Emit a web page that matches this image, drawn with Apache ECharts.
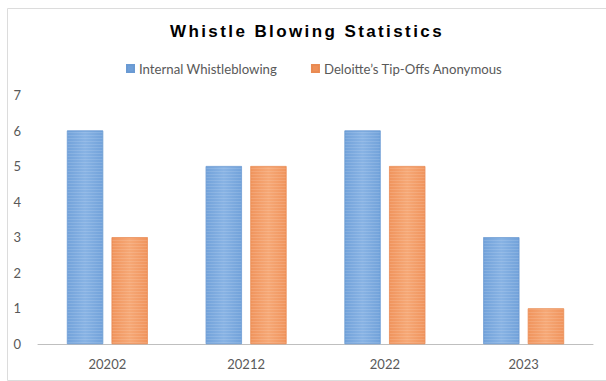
<!DOCTYPE html>
<html>
<head>
<meta charset="utf-8">
<script src="https://cdn.jsdelivr.net/npm/echarts@6/dist/echarts.min.js"></script>
<style>
html,body{margin:0;padding:0;background:#fff;}
#chart{width:606px;height:381px;}
</style>
</head>
<body>
<div id="chart"></div>
<script>
const titleText = 'Whistle Blowing Statistics';
const categories = ['20202', '20212', '2022', '2023'];
const seriesNames = ['Internal Whistleblowing', 'Deloitte\u2019s Tip-Offs Anonymous'];
const internalValues = [6, 5, 6, 3];
const deloitteValues = [3, 5, 5, 1];
const yTicks = [0, 1, 2, 3, 4, 5, 6, 7];

const chart = echarts.init(document.getElementById('chart'), null, {renderer: 'svg'});
const blueGrad = new echarts.graphic.LinearGradient(0, 0, 1, 0, [
  {offset: 0, color: '#72a2da'}, {offset: 0.5, color: '#88b3e4'}, {offset: 1, color: '#72a2da'}
]);
const orangeGrad = new echarts.graphic.LinearGradient(0, 0, 1, 0, [
  {offset: 0, color: '#f0945d'}, {offset: 0.5, color: '#f6a876'}, {offset: 1, color: '#f0945d'}
]);
const stripe = {symbol: 'rect', symbolSize: 1, dashArrayX: [1, 0], dashArrayY: [1, 2], rotation: 0, color: 'rgba(255,255,255,0.12)'};
chart.setOption({
  animation: false,
  backgroundColor: '#fff',
  aria: {enabled: true, decal: {show: true}},
  graphic: [{
    type: 'rect', left: 5, top: 6, silent: true,
    shape: {width: 599, height: 372},
    style: {fill: 'none', stroke: '#dcdcdc', lineWidth: 1}
  }],
  title: {
    text: titleText, left: 'center', top: 18,
    textStyle: {fontFamily: 'Liberation Sans', fontSize: 17, fontWeight: 'bold', color: '#000'}
  },
  legend: {
    top: 57, left: 121, itemWidth: 7, itemHeight: 7, itemGap: 34,
    icon: 'rect',
    textStyle: {fontFamily: 'Lato', fontSize: 13.2, color: '#595959'},
    data: seriesNames
  },
  grid: {left: 38, right: 13, top: 95, bottom: 37, containLabel: false},
  xAxis: {
    type: 'category', data: categories,
    axisLine: {lineStyle: {color: '#bfbfbf', width: 1}},
    axisTick: {show: false},
    axisLabel: {fontFamily: 'Lato', fontSize: 13, color: '#595959', margin: 13}
  },
  yAxis: {
    type: 'value', min: yTicks[0], max: yTicks[yTicks.length - 1], interval: 1,
    axisLine: {show: false}, axisTick: {show: false},
    splitLine: {show: false},
    axisLabel: {fontFamily: 'Lato', fontSize: 13, color: '#595959', margin: 17}
  },
  series: [
    {name: seriesNames[0], type: 'bar', data: internalValues, barWidth: 36, barGap: '24%',
     itemStyle: {color: blueGrad, borderColor: '#6a9ad3', borderWidth: 0.5, decal: stripe}},
    {name: seriesNames[1], type: 'bar', data: deloitteValues, barWidth: 36,
     itemStyle: {color: orangeGrad, borderColor: '#e98a52', borderWidth: 0.5, decal: stripe}}
  ]
});
chart.setOption({legend: {data: [
  {name: seriesNames[0], itemStyle: {color: '#6f9fd8', decal: 'none'}},
  {name: seriesNames[1], itemStyle: {color: '#ee9058', decal: 'none'}}
]}});
document.querySelectorAll('#chart svg text').forEach(t => {
  if (t.textContent === titleText) {
    t.style.letterSpacing = '2.4px';
    t.setAttribute('dx', '4');
  }
});
</script>
</body>
</html>
